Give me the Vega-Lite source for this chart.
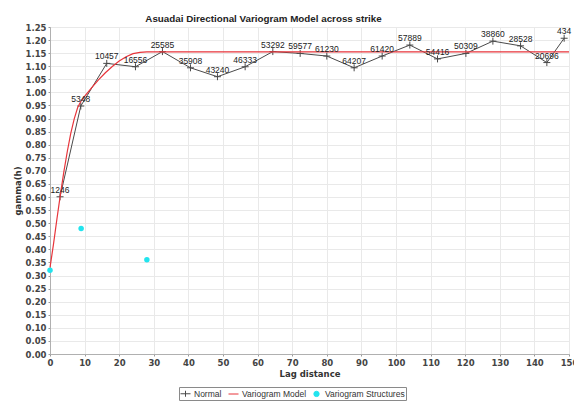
{
  "$schema": "https://vega.github.io/schema/vega-lite/v6.json",
  "autosize": "none",
  "width": 519,
  "height": 327,
  "padding": {"left": 50, "top": 27, "right": 5, "bottom": 47},
  "background": "white",
  "title": {
    "text": "Asuadai Directional Variogram Model across strike",
    "font": "Liberation Sans",
    "fontSize": 9.8,
    "fontWeight": "bold",
    "color": "#222222",
    "anchor": "middle",
    "dx": -46,
    "baseline": "alphabetic",
    "offset": -9
  },
  "config": {
    "view": {"stroke": "#c4c4c4"},
    "axis": {
      "labelFont": "DejaVu Sans",
      "labelFontSize": 8.5,
      "labelFontWeight": "bold",
      "labelColor": "#444444",
      "titleFont": "DejaVu Sans",
      "titleFontSize": 8.5,
      "titleFontWeight": "bold",
      "titleColor": "#333333",
      "gridColor": "#e9e9e9",
      "gridWidth": 1,
      "domainColor": "#b0b0b0",
      "tickColor": "#999999",
      "tickSize": 2,
      "labelPadding": 2
    }
  },
  "datasets": {
    "normal": [
      {"lag": 2.9, "gamma": 0.601, "pairs": "1246"},
      {"lag": 8.9, "gamma": 0.948, "pairs": "5348"},
      {"lag": 16.4, "gamma": 1.111, "pairs": "10457"},
      {"lag": 24.7, "gamma": 1.098, "pairs": "16556"},
      {"lag": 32.5, "gamma": 1.156, "pairs": "25585"},
      {"lag": 40.6, "gamma": 1.094, "pairs": "35908"},
      {"lag": 48.4, "gamma": 1.06, "pairs": "43240"},
      {"lag": 56.4, "gamma": 1.098, "pairs": "46333"},
      {"lag": 64.4, "gamma": 1.156, "pairs": "53292"},
      {"lag": 72.3, "gamma": 1.149, "pairs": "59577"},
      {"lag": 80.0, "gamma": 1.139, "pairs": "61230"},
      {"lag": 87.9, "gamma": 1.094, "pairs": "64207"},
      {"lag": 96.0, "gamma": 1.139, "pairs": "61420"},
      {"lag": 104.0, "gamma": 1.181, "pairs": "57889"},
      {"lag": 112.0, "gamma": 1.128, "pairs": "54416"},
      {"lag": 120.2, "gamma": 1.149, "pairs": "50309"},
      {"lag": 128.0, "gamma": 1.196, "pairs": "38860"},
      {"lag": 136.0, "gamma": 1.178, "pairs": "28528"},
      {"lag": 143.6, "gamma": 1.114, "pairs": "20696"},
      {"lag": 148.6, "gamma": 1.207, "pairs": "434"}
    ],
    "model": [
      {"lag": 0, "gamma": 0.33},
      {"lag": 1, "gamma": 0.419},
      {"lag": 2, "gamma": 0.516},
      {"lag": 3, "gamma": 0.609},
      {"lag": 4, "gamma": 0.696},
      {"lag": 5, "gamma": 0.774},
      {"lag": 6, "gamma": 0.843},
      {"lag": 7, "gamma": 0.899},
      {"lag": 8, "gamma": 0.942},
      {"lag": 9, "gamma": 0.968},
      {"lag": 10, "gamma": 0.985},
      {"lag": 12, "gamma": 1.017},
      {"lag": 14, "gamma": 1.048},
      {"lag": 16, "gamma": 1.075},
      {"lag": 18, "gamma": 1.099},
      {"lag": 20, "gamma": 1.12},
      {"lag": 22, "gamma": 1.136},
      {"lag": 24, "gamma": 1.148},
      {"lag": 26, "gamma": 1.153},
      {"lag": 28, "gamma": 1.155},
      {"lag": 150, "gamma": 1.155}
    ],
    "structures": [
      {"lag": 0, "gamma": 0.32},
      {"lag": 9, "gamma": 0.48},
      {"lag": 28, "gamma": 0.36}
    ]
  },
  "encoding": {
    "x": {
      "field": "lag",
      "type": "quantitative",
      "scale": {"domain": [0, 150], "nice": false, "zero": false},
      "axis": {
        "title": "Lag distance",
        "values": [0, 10, 20, 30, 40, 50, 60, 70, 80, 90, 100, 110, 120, 130, 140, 150],
        "titleY": 19,
        "titleBaseline": "middle",
        "labelFlush": false,
        "labelOverlap": false
      }
    },
    "y": {
      "field": "gamma",
      "type": "quantitative",
      "scale": {"domain": [0, 1.25], "nice": false},
      "axis": {
        "title": "gamma(h)",
        "values": [0, 0.05, 0.1, 0.15, 0.2, 0.25, 0.3, 0.35, 0.4, 0.45, 0.5, 0.55, 0.6, 0.65, 0.7, 0.75, 0.8, 0.85, 0.9, 0.95, 1, 1.05, 1.1, 1.15, 1.2, 1.25],
        "format": ".2f",
        "titleX": -33,
        "titleBaseline": "middle",
        "labelFlush": false,
        "labelOverlap": false
      }
    }
  },
  "layer": [
    {
      "data": {"name": "normal"},
      "mark": {"type": "line", "strokeWidth": 1, "color": "#4a4a4a"},
      "encoding": {
        "color": {
          "datum": "Normal",
          "scale": {
            "domain": ["Normal", "Variogram Model", "Variogram Structures"],
            "range": ["#4a4a4a", "#e8353b", "#22e4ee"]
          },
          "legend": {
            "title": null,
            "orient": "none",
            "legendX": 129,
            "legendY": 360,
            "direction": "horizontal",
            "strokeColor": "#8a8a8a",
            "padding": 1,
            "labelFont": "Liberation Sans",
            "labelFontSize": 8.5,
            "labelColor": "#333333",
            "labelOffset": 3,
            "columnPadding": 4,
            "symbolSize": 100,
            "encode": {
              "symbols": {
                "update": {
                  "shape": {"signal": "datum.value === 'Normal' ? 'M-1,0L1,0M0,-0.6L0,0.6' : datum.value === 'Variogram Model' ? 'stroke' : 'circle'"},
                  "fill": {"signal": "datum.value === 'Variogram Structures' ? '#22e4ee' : 'transparent'"},
                  "stroke": {"signal": "datum.value === 'Normal' ? '#4a4a4a' : datum.value === 'Variogram Model' ? '#e8353b' : 'transparent'"},
                  "size": {"signal": "datum.value === 'Variogram Structures' ? 28 : 100"},
                  "strokeWidth": {"value": 1},
                  "opacity": {"value": 1}
                }
              }
            }
          }
        }
      }
    },
    {
      "data": {"name": "normal"},
      "mark": {"type": "point", "shape": "M-1,0L1,0M0,-1L0,1", "size": 49, "filled": false, "strokeWidth": 1, "opacity": 1},
      "encoding": {"color": {"datum": "Normal"}}
    },
    {
      "data": {"name": "model"},
      "mark": {"type": "line", "strokeWidth": 1.2},
      "encoding": {"color": {"datum": "Variogram Model"}}
    },
    {
      "data": {"name": "structures"},
      "mark": {"type": "point", "shape": "circle", "size": 30, "filled": true, "opacity": 1},
      "encoding": {"color": {"datum": "Variogram Structures"}}
    },
    {
      "data": {"name": "normal"},
      "mark": {"type": "text", "font": "Liberation Sans", "fontSize": 8.5, "color": "#222222", "dy": -7, "baseline": "middle"},
      "encoding": {"text": {"field": "pairs", "type": "nominal"}}
    }
  ]
}
